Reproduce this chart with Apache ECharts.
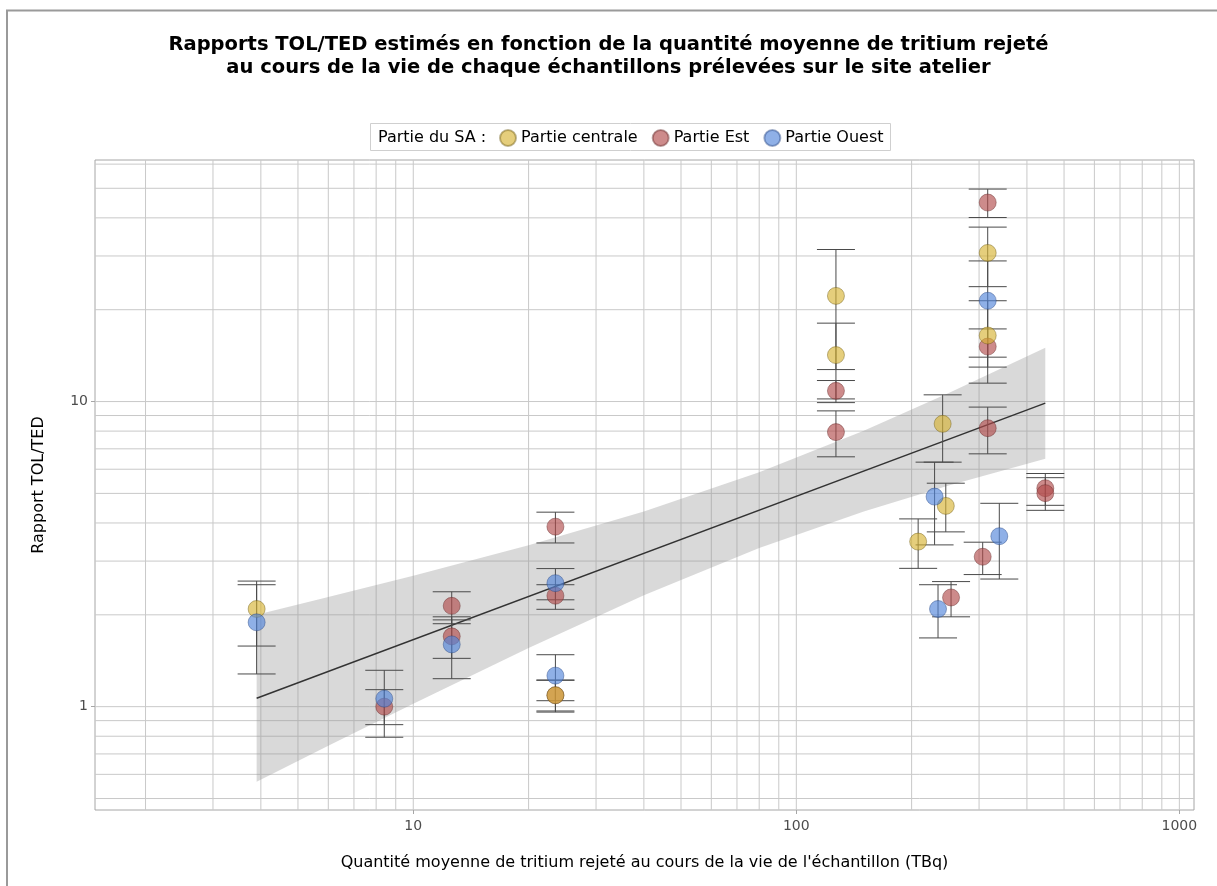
<!DOCTYPE html>
<html>
<head>
<meta charset="utf-8">
<script src="https://cdn.jsdelivr.net/npm/echarts@6/dist/echarts.min.js"></script>
<style>
html,body{margin:0;padding:0;background:#fff;}
#chart{width:1217px;height:886px;}
</style>
</head>
<body>
<div id="chart"></div>
<script>
// ---------- data ----------
const seriesNames = ['Partie centrale', 'Partie Est', 'Partie Ouest'];

const centraleX  = [3.9, 23.5, 126.9, 126.9, 316, 316, 241, 245.6, 208];
const centraleY  = [2.09, 1.09, 22.2, 14.2, 30.7, 16.46, 8.45, 4.55, 3.475];
const centraleLo = [1.58, 0.968, 12.73, 10.2, 23.8, 11.49, 6.33, 3.74, 2.84];
const centraleHi = [2.58, 1.223, 31.5, 18.07, 37.3, 21.4, 10.52, 5.40, 4.125];

const estX  = [8.4, 12.6, 12.6, 23.5, 23.5, 23.5, 126.9, 126.9, 316, 316, 316, 306.6, 253.5, 446.7, 446.7];
const estY  = [1.00, 2.14, 1.70, 3.89, 2.31, 1.09, 10.84, 7.94, 44.9, 15.14, 8.18, 3.10, 2.28, 5.20, 5.01];
const estLo = [0.873, 1.87, 1.44, 3.44, 2.085, 0.96, 9.92, 6.59, 40.1, 12.97, 6.74, 2.71, 1.97, 4.57, 4.40];
const estHi = [1.137, 2.38, 1.925, 4.34, 2.51, 1.22, 11.72, 9.32, 49.7, 17.3, 9.59, 3.46, 2.57, 5.81, 5.63];

const ouestX  = [3.9, 8.4, 12.6, 23.5, 23.5, 316, 229.6, 338.8, 234.4];
const ouestY  = [1.89, 1.062, 1.60, 2.54, 1.264, 21.4, 4.88, 3.62, 2.09];
const ouestLo = [1.28, 0.794, 1.235, 2.24, 1.046, 13.98, 3.39, 2.62, 1.68];
const ouestHi = [2.51, 1.316, 1.97, 2.835, 1.48, 28.9, 6.33, 4.64, 2.51];

// regression line and its confidence band
const fitX = [3.9, 446.7];
const fitY = [1.065, 9.88];
const bandX    = [3.9, 6, 10, 20, 40, 80, 150, 250, 446.7];
const bandLow  = [0.567, 0.744, 1.023, 1.558, 2.319, 3.31, 4.36, 5.31, 6.50];
const bandHigh = [2.00, 2.286, 2.688, 3.383, 4.363, 5.86, 8.02, 10.66, 15.02];

// axes
const xMin = 1.476, xMax = 1092;
const yMin = 0.4585, yMax = 61.9;
const xTickLabels = [10, 100, 1000];
const yTickLabels = [1, 10];
const xGridValues = [2,3,4,5,6,7,8,9,10,20,30,40,50,60,70,80,90,100,200,300,400,500,600,700,800,900,1000];
const yGridValues = [0.5,0.6,0.7,0.8,0.9,1,2,3,4,5,6,7,8,9,10,20,30,40,50,60];

// ---------- styles ----------
const FONT = '"DejaVu Sans", Verdana, sans-serif';
const colors = ['rgba(214,178,50,0.8)', 'rgba(176,74,74,0.8)', 'rgba(80,132,217,0.8)'];

function zip(xs, ys) { return xs.map((x, i) => [x, ys[i]]); }
function zip4(xs, ys, lo, hi) { return xs.map((x, i) => [x, ys[i], lo[i], hi[i]]); }

const errorData = [].concat(
  zip4(centraleX, centraleY, centraleLo, centraleHi),
  zip4(estX, estY, estLo, estHi),
  zip4(ouestX, ouestY, ouestLo, ouestHi)
);

const gridData = xGridValues.map(v => [v, 1, 0]).concat(yGridValues.map(v => [10, v, 1]));

const chart = echarts.init(document.getElementById('chart'), null, {renderer: 'canvas'});

const option = {
  backgroundColor: '#ffffff',
  animation: false,
  title: {
    text: 'Rapports TOL/TED estimés en fonction de la quantité moyenne de tritium rejeté\nau cours de la vie de chaque échantillons prélevées sur le site atelier',
    left: 'center',
    top: 28,
    textStyle: {fontFamily: FONT, fontSize: 19.5, fontWeight: 'bold', color: '#000', lineHeight: 23}
  },
  legend: {
    left: 499,
    top: 129,
    padding: 0,
    itemWidth: 16,
    itemHeight: 16,
    itemGap: 14,
    icon: 'circle',
    textStyle: {fontFamily: FONT, fontSize: 16, color: '#000'},
    data: seriesNames
  },
  grid: {
    left: 95, right: 23, top: 160, bottom: 76,
    show: true, borderColor: '#a6a6a6', borderWidth: 1, backgroundColor: 'transparent'
  },
  xAxis: {
    type: 'log', logBase: 10, min: xMin, max: xMax,
    name: "Quantité moyenne de tritium rejeté au cours de la vie de l'échantillon (TBq)",
    nameLocation: 'middle', nameGap: 45,
    nameTextStyle: {fontFamily: FONT, fontSize: 16, color: '#000'},
    axisLine: {show: false},
    axisTick: {show: true, customValues: xTickLabels, length: 4, lineStyle: {color: '#a6a6a6'}},
    axisLabel: {customValues: xTickLabels, fontFamily: FONT, fontSize: 14, color: '#4d4d4d', margin: 9,
      formatter: v => String(Math.round(v))},
    splitLine: {show: false}
  },
  yAxis: {
    type: 'log', logBase: 10, min: yMin, max: yMax,
    name: 'Rapport TOL/TED',
    nameLocation: 'middle', nameGap: 48, nameRotate: 90,
    nameTextStyle: {fontFamily: FONT, fontSize: 16, color: '#000'},
    axisLine: {show: false},
    axisTick: {show: true, customValues: yTickLabels, length: 4, lineStyle: {color: '#a6a6a6'}},
    axisLabel: {customValues: yTickLabels, fontFamily: FONT, fontSize: 14, color: '#4d4d4d', margin: 7,
      formatter: v => String(Math.round(v))},
    splitLine: {show: false}
  },
  graphic: [
    {type: 'line', shape: {x1: 6, y1: 10.5, x2: 1217, y2: 10.5}, style: {stroke: '#9a9a9a', lineWidth: 2}, z: 100},
    {type: 'line', shape: {x1: 7, y1: 10, x2: 7, y2: 886}, style: {stroke: '#9a9a9a', lineWidth: 2}, z: 100},
    {type: 'rect', shape: {x: 370.5, y: 123.5, width: 520, height: 27}, style: {fill: 'none', stroke: '#cfcfcf', lineWidth: 1}, z: 100},
    {type: 'text', x: 378, y: 137.5, style: {text: 'Partie du SA :', fontFamily: FONT, fontSize: 16, fill: '#000', verticalAlign: 'middle'}, z: 100},
    {type: 'rect', shape: {x: 1199, y: 812, width: 18, height: 40}, style: {fill: '#fff'}, z: 100}
  ],
  series: [
    {
      // grid lines drawn through the axes' own scales
      type: 'custom', name: 'grid', silent: true, z: 0,
      data: gridData,
      renderItem: function (params, api) {
        const cs = params.coordSys;
        const p = api.coord([api.value(0), api.value(1)]);
        let shape;
        if (api.value(2) === 0) shape = {x1: p[0], y1: cs.y, x2: p[0], y2: cs.y + cs.height};
        else shape = {x1: cs.x, y1: p[1], x2: cs.x + cs.width, y2: p[1]};
        return {type: 'line', shape: shape, style: {stroke: '#c9c9c9', lineWidth: 1}};
      }
    },
    {
      type: 'custom', name: 'band', silent: true, z: 1, clip: true,
      data: [[bandX[0], bandLow[0]]],
      renderItem: function (params, api) {
        const pts = [];
        for (let i = 0; i < bandX.length; i++) pts.push(api.coord([bandX[i], bandHigh[i]]));
        for (let i = bandX.length - 1; i >= 0; i--) pts.push(api.coord([bandX[i], bandLow[i]]));
        return {type: 'polygon', shape: {points: pts}, style: {fill: 'rgba(150,150,150,0.36)'}};
      }
    },
    {
      type: 'line', name: 'fit', silent: true, z: 2,
      data: zip(fitX, fitY), symbol: 'none',
      lineStyle: {color: '#333', width: 1.5}
    },
    {
      type: 'custom', name: 'errorbars', silent: true, z: 3,
      data: errorData,
      encode: {x: 0, y: [1, 2, 3]},
      renderItem: function (params, api) {
        const x = api.value(0);
        const lo = api.coord([x, api.value(2)]);
        const hi = api.coord([x, api.value(3)]);
        const w = 19;
        const st = {stroke: '#4a4a4a', lineWidth: 1};
        return {type: 'group', children: [
          {type: 'line', shape: {x1: lo[0], y1: lo[1], x2: hi[0], y2: hi[1]}, style: st},
          {type: 'line', shape: {x1: lo[0] - w, y1: lo[1], x2: lo[0] + w, y2: lo[1]}, style: st},
          {type: 'line', shape: {x1: hi[0] - w, y1: hi[1], x2: hi[0] + w, y2: hi[1]}, style: st}
        ]};
      }
    },
    {
      type: 'scatter', name: seriesNames[1], z: 4, symbolSize: 17,
      data: zip(estX, estY),
      itemStyle: {color: colors[1], borderColor: 'rgba(100,40,40,0.55)', borderWidth: 1}
    },
    {
      type: 'scatter', name: seriesNames[0], z: 4, symbolSize: 17,
      data: zip(centraleX, centraleY),
      itemStyle: {color: colors[0], borderColor: 'rgba(110,90,20,0.55)', borderWidth: 1}
    },
    {
      type: 'scatter', name: seriesNames[2], z: 4, symbolSize: 17,
      data: zip(ouestX, ouestY),
      itemStyle: {color: colors[2], borderColor: 'rgba(40,70,130,0.55)', borderWidth: 1}
    }
  ]
};
chart.setOption(option);
</script>
</body>
</html>
